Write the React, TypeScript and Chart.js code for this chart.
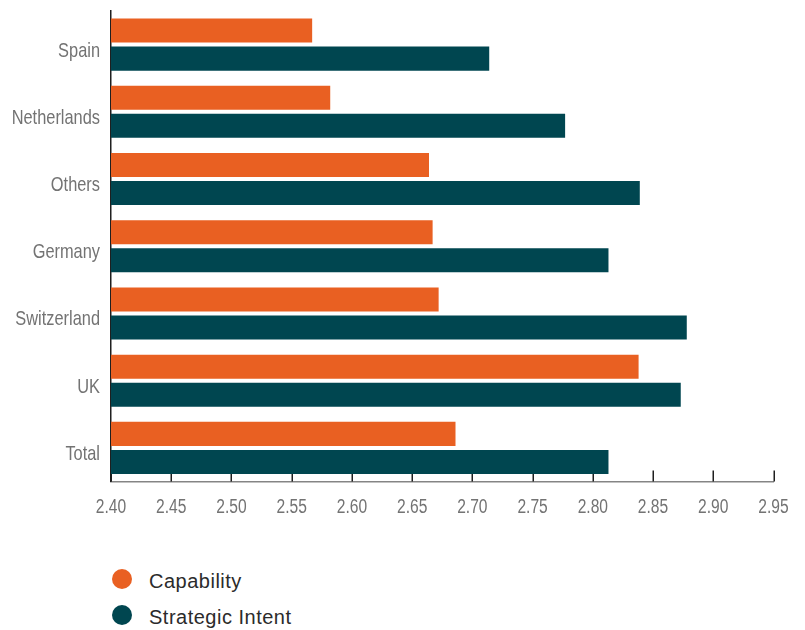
import React, { useEffect, useRef } from "react";
import { Chart, registerables } from "chart.js";

Chart.register(...registerables);

// Country groups and their mean scores (x axis runs 2.40 – 2.95)
const categories = ["Spain", "Netherlands", "Others", "Germany", "Switzerland", "UK", "Total"];
const capability = [2.567, 2.582, 2.664, 2.667, 2.672, 2.838, 2.686];
const strategicIntent = [2.714, 2.777, 2.839, 2.813, 2.878, 2.873, 2.813];

const seriesNames = ["Capability", "Strategic Intent"];
const seriesColors = ["#E96022", "#004650"];

const axisMin = 2.4;
const axisMax = 2.95;
const axisStep = 0.05;

const LABEL_FONT = "'Liberation Sans', Arial, sans-serif";
const LABEL_COLOR = "#737373";
// horizontal squeeze that gives the axis text a condensed face
const CONDENSE = 0.78;

// Short tick marks standing up from the value axis (painted under the bars)
const innerTicks = {
  id: "innerTicks",
  beforeDatasetsDraw(chart: any) {
    const xs = chart.scales.x;
    const { ctx, chartArea } = chart;
    ctx.save();
    ctx.strokeStyle = "#1f1f1f";
    ctx.lineWidth = 1.5;
    xs.ticks.forEach((t: any) => {
      const px = Math.round(xs.getPixelForValue(t.value)) + 0.25;
      ctx.beginPath();
      ctx.moveTo(px, chartArea.bottom);
      ctx.lineTo(px, chartArea.bottom - 11);
      ctx.stroke();
    });
    ctx.restore();
  },
};

// Axis labels in a condensed face, placed from the scales' own ticks
const condensedLabels = {
  id: "condensedLabels",
  afterDraw(chart: any) {
    const { ctx, chartArea, scales } = chart;
    const ys = scales.y;
    const xs = scales.x;
    ctx.save();
    ctx.fillStyle = LABEL_COLOR;
    ctx.textBaseline = "alphabetic";

    ctx.font = `21px ${LABEL_FONT}`;
    ctx.textAlign = "right";
    ys.ticks.forEach((t: any, i: number) => {
      const label = String(ys.getLabelForValue(t.value));
      const y = ys.getPixelForTick(i);
      ctx.save();
      ctx.translate(chartArea.left - 11, y + 12);
      ctx.scale(CONDENSE, 1);
      ctx.fillText(label, 0, 0);
      ctx.restore();
    });

    ctx.font = `20px ${LABEL_FONT}`;
    ctx.textAlign = "center";
    xs.ticks.forEach((t: any) => {
      const label = Number(t.value).toFixed(2);
      const x = xs.getPixelForValue(t.value);
      ctx.save();
      ctx.translate(x, chartArea.bottom + 31);
      ctx.scale(CONDENSE, 1);
      ctx.fillText(label, 0, 0);
      ctx.restore();
    });
    ctx.restore();
  },
};

export default function App() {
  const canvasRef = useRef<HTMLCanvasElement | null>(null);

  useEffect(() => {
    if (!canvasRef.current) return;
    const chart = new Chart(canvasRef.current, {
      type: "bar",
      data: {
        labels: categories,
        datasets: [
          {
            label: seriesNames[0],
            data: capability,
            backgroundColor: seriesColors[0],
            borderWidth: 0,
            categoryPercentage: 0.834,
            barPercentage: 0.857,
          },
          {
            label: seriesNames[1],
            data: strategicIntent,
            backgroundColor: seriesColors[1],
            borderWidth: 0,
            categoryPercentage: 0.834,
            barPercentage: 0.857,
          },
        ],
      },
      options: {
        indexAxis: "y",
        responsive: false,
        animation: false,
        devicePixelRatio: 1,
        layout: { padding: { top: 11, right: 31.5, bottom: 0, left: 0 } },
        plugins: {
          legend: { display: false },
          tooltip: { enabled: false },
        },
        scales: {
          x: {
            type: "linear",
            min: axisMin,
            max: axisMax,
            grid: { display: false, drawTicks: false },
            border: { display: true, color: "#858585", width: 1.5 },
            ticks: { display: false, stepSize: axisStep },
            afterFit: (scale: any) => {
              scale.height = 48.5;
            },
          },
          y: {
            grid: { display: false, drawTicks: false },
            border: { display: true, color: "#1f1f1f", width: 1.5 },
            ticks: { display: false },
            afterFit: (scale: any) => {
              scale.width = 111;
            },
          },
        },
      },
      plugins: [innerTicks, condensedLabels],
    });
    return () => chart.destroy();
  }, []);

  const legendFont = "'Liberation Sans', Arial, sans-serif";
  const rowCenters = [578.5, 615];

  return (
    <div
      style={{
        position: "absolute",
        left: 0,
        top: 0,
        width: 805,
        height: 630,
        background: "#ffffff",
        overflow: "hidden",
      }}
    >
      <canvas
        ref={canvasRef}
        width={805}
        height={530}
        style={{ position: "absolute", left: 0, top: 0, width: 805, height: 530 }}
      />
      {seriesNames.map((name, i) => (
        <React.Fragment key={name}>
          <div
            style={{
              position: "absolute",
              left: 111.7,
              top: rowCenters[i] - 10,
              width: 20,
              height: 20,
              borderRadius: "50%",
              background: seriesColors[i],
            }}
          />
          <div
            style={{
              position: "absolute",
              left: 149,
              top: rowCenters[i] - 10,
              height: 24,
              lineHeight: "24px",
              fontFamily: legendFont,
              fontSize: 20,
              letterSpacing: "0.5px",
              color: "#2b2b2b",
              whiteSpace: "nowrap",
            }}
          >
            {name}
          </div>
        </React.Fragment>
      ))}
    </div>
  );
}
